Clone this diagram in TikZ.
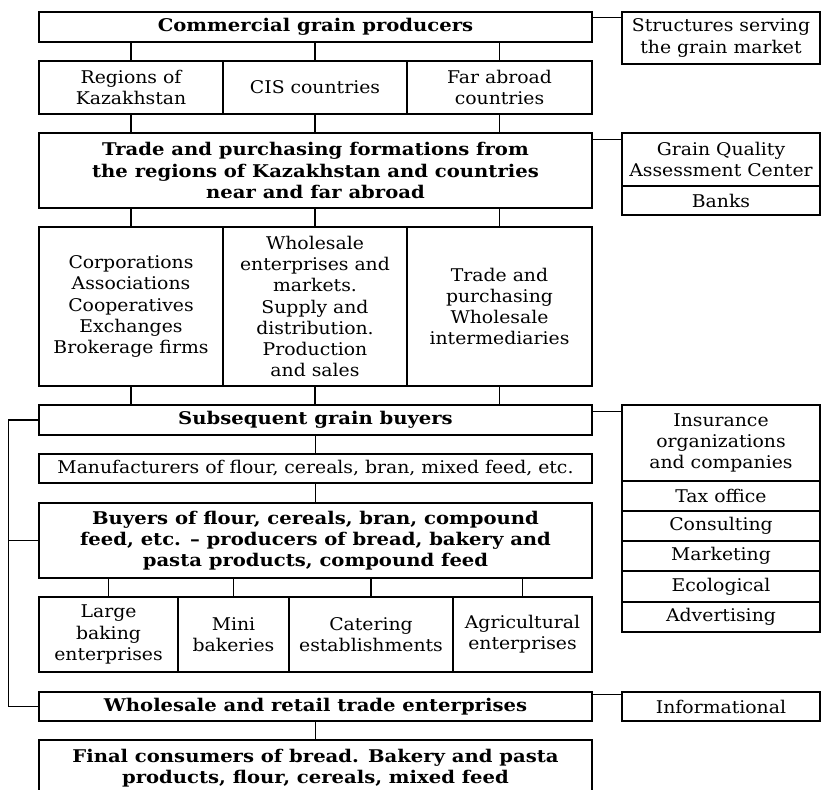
\documentclass[tikz,border=0pt]{standalone}
\usepackage{fontspec}
\setmainfont{DejaVu Serif}[FakeStretch=1.075, BoldFeatures={FakeStretch=1.12}]
\begin{document}
\begin{tikzpicture}[x=1pt,y=-1pt,
  bx/.style={draw, line width=1.5pt, align=center, inner sep=0pt, font=\fontsize{17.5}{21.3}\selectfont},
  bb/.style={bx, font=\fontsize{17.5}{21.3}\selectfont\bfseries},
  ln/.style={line width=1.2pt}]
\path[use as bounding box, clip] (0,0) rectangle (821,789);
% left column
\node[bb, minimum width=553, minimum height=30] (cgp) at (315.5,27) {Commercial grain producers};
\node[bx, minimum width=184, minimum height=53] (reg) at (131,87.5) {Regions of\\Kazakhstan};
\node[bx, minimum width=184, minimum height=53] (cis) at (315,87.5) {CIS countries};
\node[bx, minimum width=185, minimum height=53] (far) at (499.5,87.5) {Far abroad\\countries};
\node[bb, minimum width=553, minimum height=75] (tpf) at (315.5,170.5) {Trade and purchasing formations from\\the regions of Kazakhstan and countries\\near and far abroad};
\node[bx, minimum width=184, minimum height=159] (corp) at (131,306.5) {Corporations\\Associations\\Cooperatives\\Exchanges\\Brokerage firms};
\node[bx, minimum width=184, minimum height=159] (whol) at (315,306.5) {Wholesale\\enterprises and\\markets.\\Supply and\\distribution.\\Production\\and sales};
\node[bx, minimum width=185, minimum height=159] (trd) at (499.5,306.5) {Trade and\\purchasing\\Wholesale\\intermediaries};
\node[bb, minimum width=553, minimum height=30] (sgb) at (315.5,420) {Subsequent grain buyers};
\node[bx, minimum width=553, minimum height=29] (man) at (315.5,468.5) {Manufacturers of flour, cereals, bran, mixed feed, etc.};
\node[bb, minimum width=553, minimum height=75] (buy) at (315.5,540.5) {Buyers of flour, cereals, bran, compound\\feed, etc. -- producers of bread, bakery and\\pasta products, compound feed};
\node[bx, minimum width=139, minimum height=75] (lrg) at (108.5,634.5) {Large\\baking\\enterprises};
\node[bx, minimum width=111, minimum height=75] (mini) at (233.5,634.5) {Mini\\bakeries};
\node[bx, minimum width=164, minimum height=75] (cat) at (371,634.5) {Catering\\establishments};
\node[bx, minimum width=139, minimum height=75] (agr) at (522.5,634.5) {Agricultural\\enterprises};
\node[bb, minimum width=553, minimum height=29] (wr) at (315.5,706.5) {Wholesale and retail trade enterprises};
\node[bb, minimum width=553, minimum height=56] (fin) at (315.5,768) {Final consumers of bread. Bakery and pasta\\products, flour, cereals, mixed feed};
% right column
\node[bx, minimum width=198, minimum height=52] (ssm) at (721,38) {Structures serving\\the grain market};
\node[bx, minimum width=198, minimum height=53] (gqa) at (721,159.5) {Grain Quality\\Assessment Center};
\node[bx, minimum width=198, minimum height=29] (bnk) at (721,200.5) {Banks};
\node[bx, minimum width=198, minimum height=76] (ins) at (721,443) {Insurance\\organizations\\and companies};
\node[bx, minimum width=198, minimum height=30] (tax) at (721,496) {Tax office};
\node[bx, minimum width=198, minimum height=30] (con) at (721,526) {Consulting};
\node[bx, minimum width=198, minimum height=30] (mkt) at (721,556) {Marketing};
\node[bx, minimum width=198, minimum height=31] (eco) at (721,586.5) {Ecological};
\node[bx, minimum width=198, minimum height=30] (adv) at (721,617) {Advertising};
\node[bx, minimum width=198, minimum height=29] (inf) at (721,706.5) {Informational};
% horizontal connectors to the right
\draw[ln] ([yshift=-6pt]cgp.north east) -- ([yshift=-6pt]ssm.north west);
\draw[ln] ([yshift=-7pt]tpf.north east) -- ([yshift=-7pt]gqa.north west);
\draw[ln] ([yshift=-7pt]sgb.north east) -- ([yshift=-7pt]ins.north west);
\draw[ln] ([yshift=-3pt]wr.north east) -- ([yshift=-3pt]inf.north west);
% vertical connectors
\foreach \n in {reg,cis,far}{
  \draw[ln] (\n.north) -- (\n.north |- cgp.south);
  \draw[ln] (\n.south) -- (\n.south |- tpf.north);
}
\foreach \n in {corp,whol,trd}{
  \draw[ln] (\n.north) -- (\n.north |- tpf.south);
  \draw[ln] (\n.south) -- (\n.south |- sgb.north);
}
\draw[ln] (man.north) -- (man.north |- sgb.south);
\draw[ln] (buy.north) -- (buy.north |- man.south);
\foreach \n in {lrg,mini,cat,agr}{
  \draw[ln] (\n.north) -- (\n.north |- buy.south);
}
\draw[ln] (fin.north) -- (fin.north |- wr.south);
% left bracket
\draw[ln] (sgb.west) -- ++(-30,0) |- (wr.west);
\draw[ln] (buy.west) -- ++(-30,0);
\end{tikzpicture}
\end{document}
